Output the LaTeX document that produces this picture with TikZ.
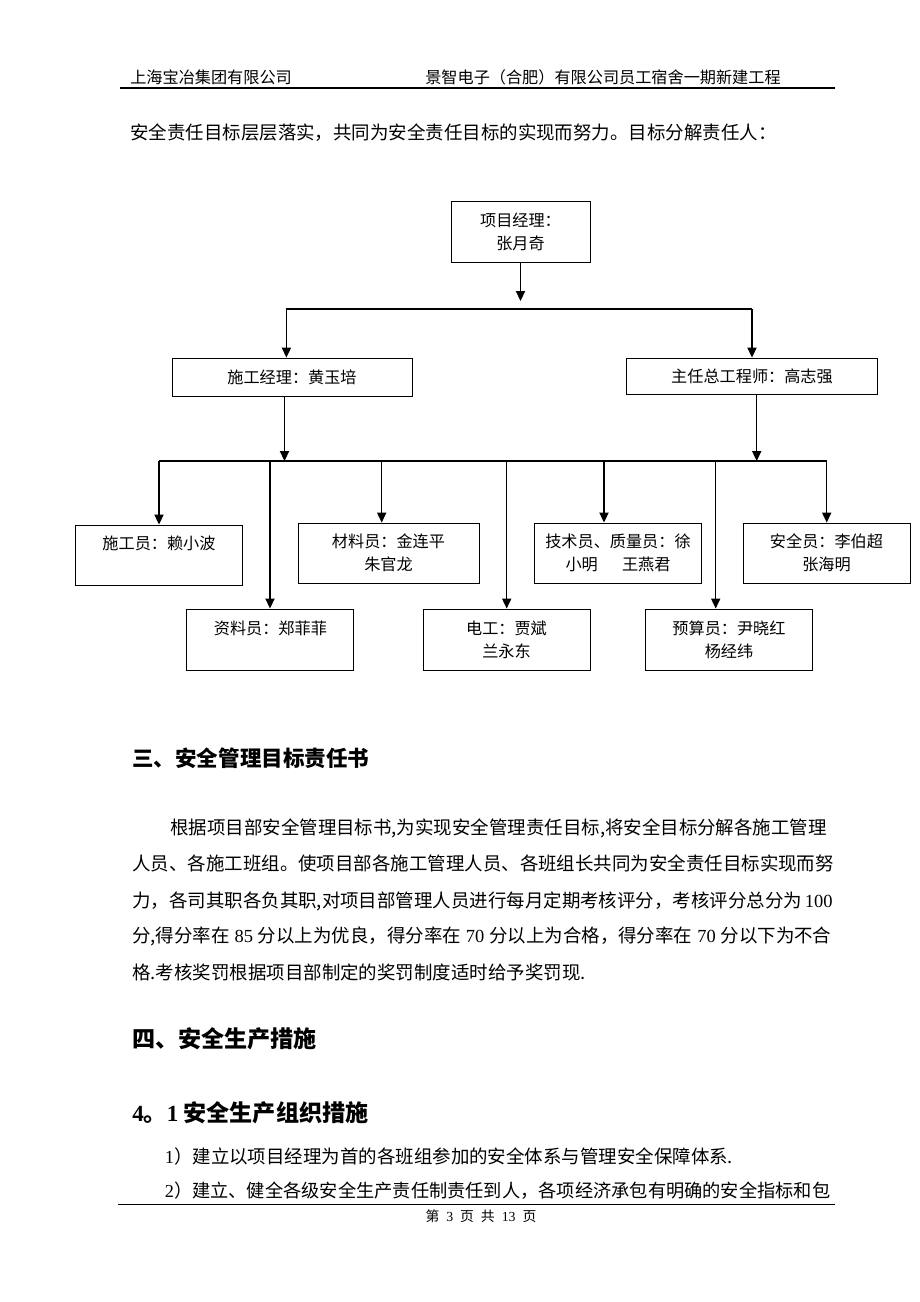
\documentclass[tikz,border=0pt]{standalone}
\usepackage{fontspec}
\setmainfont{Noto Sans CJK SC}
\newfontfamily\lat{Liberation Serif}
\usetikzlibrary{positioning, arrows.meta}
\XeTeXlinebreaklocale "zh"
\XeTeXlinebreakskip=0pt plus 1pt minus 0.4pt
\tikzstyle{arrow} = [line width=0.75pt, -{Triangle[length=6.5pt, width=6pt]}]
\tikzstyle{bus} = [line width=0.75pt]
\tikzstyle{post} = [rectangle, draw, line width=0.6pt, inner sep=0pt, align=center, font=\fontsize{10.5pt}{15pt}\selectfont]
\tikzstyle{txt} = [anchor=base west, inner sep=0pt]
\tikzstyle{body} = [txt, font=\fontsize{12pt}{14pt}\selectfont]
\tikzstyle{heading} = [txt, font=\fontsize{15pt}{17pt}\selectfont\bfseries]

\begin{document}
\begin{tikzpicture}[x=0.65pt, y=-0.65pt]
      \fill[white] (0,0) rectangle (920,1302);
      \useasboundingbox (0,0) rectangle (920,1302);

      % Page header
      \node[txt, font=\fontsize{10.5pt}{12pt}\selectfont] (headL) at (130,83) {上海宝冶集团有限公司};
      \node[txt, font=\fontsize{10.5pt}{12pt}\selectfont] (headR) at (425,83) {景智电子（合肥）有限公司员工宿舍一期新建工程};
      \draw[line width=1pt] (120,88) -- (835,88);

      \node[body] (intro) at (130,139) {安全责任目标层层落实，共同为安全责任目标的实现而努力。目标分解责任人：};

      % Managers
      \node[post, minimum width=90.4pt, minimum height=39.7pt] (pm) at (520.5,231.5) {项目经理：\\张月奇};
      \node[post, minimum width=156pt, minimum height=24.7pt] (sg) at (292,377) {施工经理：黄玉培};
      \node[post, minimum width=163.2pt, minimum height=23.4pt] (zg) at (752,376) {主任总工程师：高志强};

      % Staff, upper row
      \node[post, minimum width=108.6pt, minimum height=39pt] (sgy) at (159,555) {施工员：赖小波\\\vphantom{赖}};
      \node[post, minimum width=117.7pt, minimum height=39pt] (cly) at (388.5,553) {材料员：金连平\\朱官龙};
      \node[post, minimum width=108.6pt, minimum height=39pt] (jsy) at (618,553) {技术员、质量员：徐\\小明\hspace{1.5em}王燕君};
      \node[post, minimum width=108.6pt, minimum height=39pt] (aqy) at (826.5,553) {安全员：李伯超\\张海明};

      % Staff, lower row
      \node[post, minimum width=108.6pt, minimum height=39.7pt] (zly) at (270.4,639.5) {资料员：郑菲菲\\\vphantom{郑}};
      \node[post, minimum width=108.6pt, minimum height=39.7pt] (dg) at (506.5,639.5) {电工：贾斌\\兰永东};
      \node[post, minimum width=108.6pt, minimum height=39.7pt] (ysy) at (729,639.5) {预算员：尹晓红\\杨经纬};

      % Connections, top level
      \coordinate (pmtip) at (520.5,301);
      \coordinate (topL) at (286.4,309);
      \coordinate (topR) at (752,309);
      \draw[arrow] (pm) -- (pmtip);
      \draw[bus] (topL) -- (topR);
      \draw[arrow] (topL) -- (topL |- sg.north);
      \draw[arrow] (topR) -- (zg);

      % Connections, staff
      \coordinate (sgdrop) at (284.5,461);
      \coordinate (zgdrop) at (756.7,461);
      \coordinate (dsgy) at (159,461);
      \coordinate (dzly) at (270,461);
      \coordinate (dcly) at (381.7,461);
      \coordinate (ddg) at (506.7,461);
      \coordinate (djsy) at (604,461);
      \coordinate (dysy) at (715.7,461);
      \coordinate (daqy) at (826.7,461);
      \draw[arrow] (sgdrop |- sg.south) -- (sgdrop);
      \draw[arrow] (zgdrop |- zg.south) -- (zgdrop);
      \draw[bus] (dsgy) -- (daqy);
      \draw[arrow] (dsgy) -- (dsgy |- sgy.north);
      \draw[arrow] (dzly) -- (dzly |- zly.north);
      \draw[arrow] (dcly) -- (dcly |- cly.north);
      \draw[arrow] (ddg) -- (ddg |- dg.north);
      \draw[arrow] (djsy) -- (djsy |- jsy.north);
      \draw[arrow] (dysy) -- (dysy |- ysy.north);
      \draw[arrow] (daqy) -- (daqy |- aqy.north);

      % Section three
      \node[txt, font=\fontsize{14pt}{16pt}\selectfont\bfseries] (sec3) at (132,766) {三、安全管理目标责任书};
      \node[body] (par1) at (170,834) {\makebox[429.7pt][s]{根据项目部安全管理目标书,为实现安全管理责任目标,将安全目标分解各施工管理}};
      \node[body] (par2) at (132,870) {\makebox[454.4pt][s]{人员、各施工班组。使项目部各施工管理人员、各班组长共同为安全责任目标实现而努}};
      \node[body] (par3) at (132,907) {\makebox[454.4pt][s]{力，各司其职各负其职,对项目部管理人员进行每月定期考核评分，考核评分总分为 {\lat 100}}};
      \node[body] (par4) at (132,942) {\makebox[454.4pt][s]{分,得分率在 {\lat 85} 分以上为优良，得分率在 {\lat 70} 分以上为合格，得分率在 {\lat 70} 分以下为不合}};
      \node[body] (par5) at (132,979) {格.考核奖罚根据项目部制定的奖罚制度适时给予奖罚现.};

      % Section four
      \node[heading] (sec4) at (132,1047) {四、安全生产措施};
      \node[heading] (sec41) at (132,1121) {{\lat\bfseries 4}。{\lat\bfseries 1} 安全生产组织措施};
      \node[body] (item1) at (164.6,1163) {{\lat 1}）建立以项目经理为首的各班组参加的安全体系与管理安全保障体系.};
      \node[body, font=\fontsize{11.85pt}{14pt}\selectfont] (item2) at (164.6,1197) {{\lat 2}）建立、健全各级安全生产责任制责任到人，各项经济承包有明确的安全指标和包};

      % Page footer
      \draw[line width=0.65pt] (118,1204) -- (835,1204);
      \node[anchor=base, inner sep=0pt, font=\fontsize{9pt}{10pt}\selectfont] (footer) at (481,1221) {第\hspace{0.5em}{\lat 3}\hspace{0.5em}页\hspace{0.5em}共\hspace{0.5em}{\lat 13}\hspace{0.5em}页};
\end{tikzpicture}
\end{document}
